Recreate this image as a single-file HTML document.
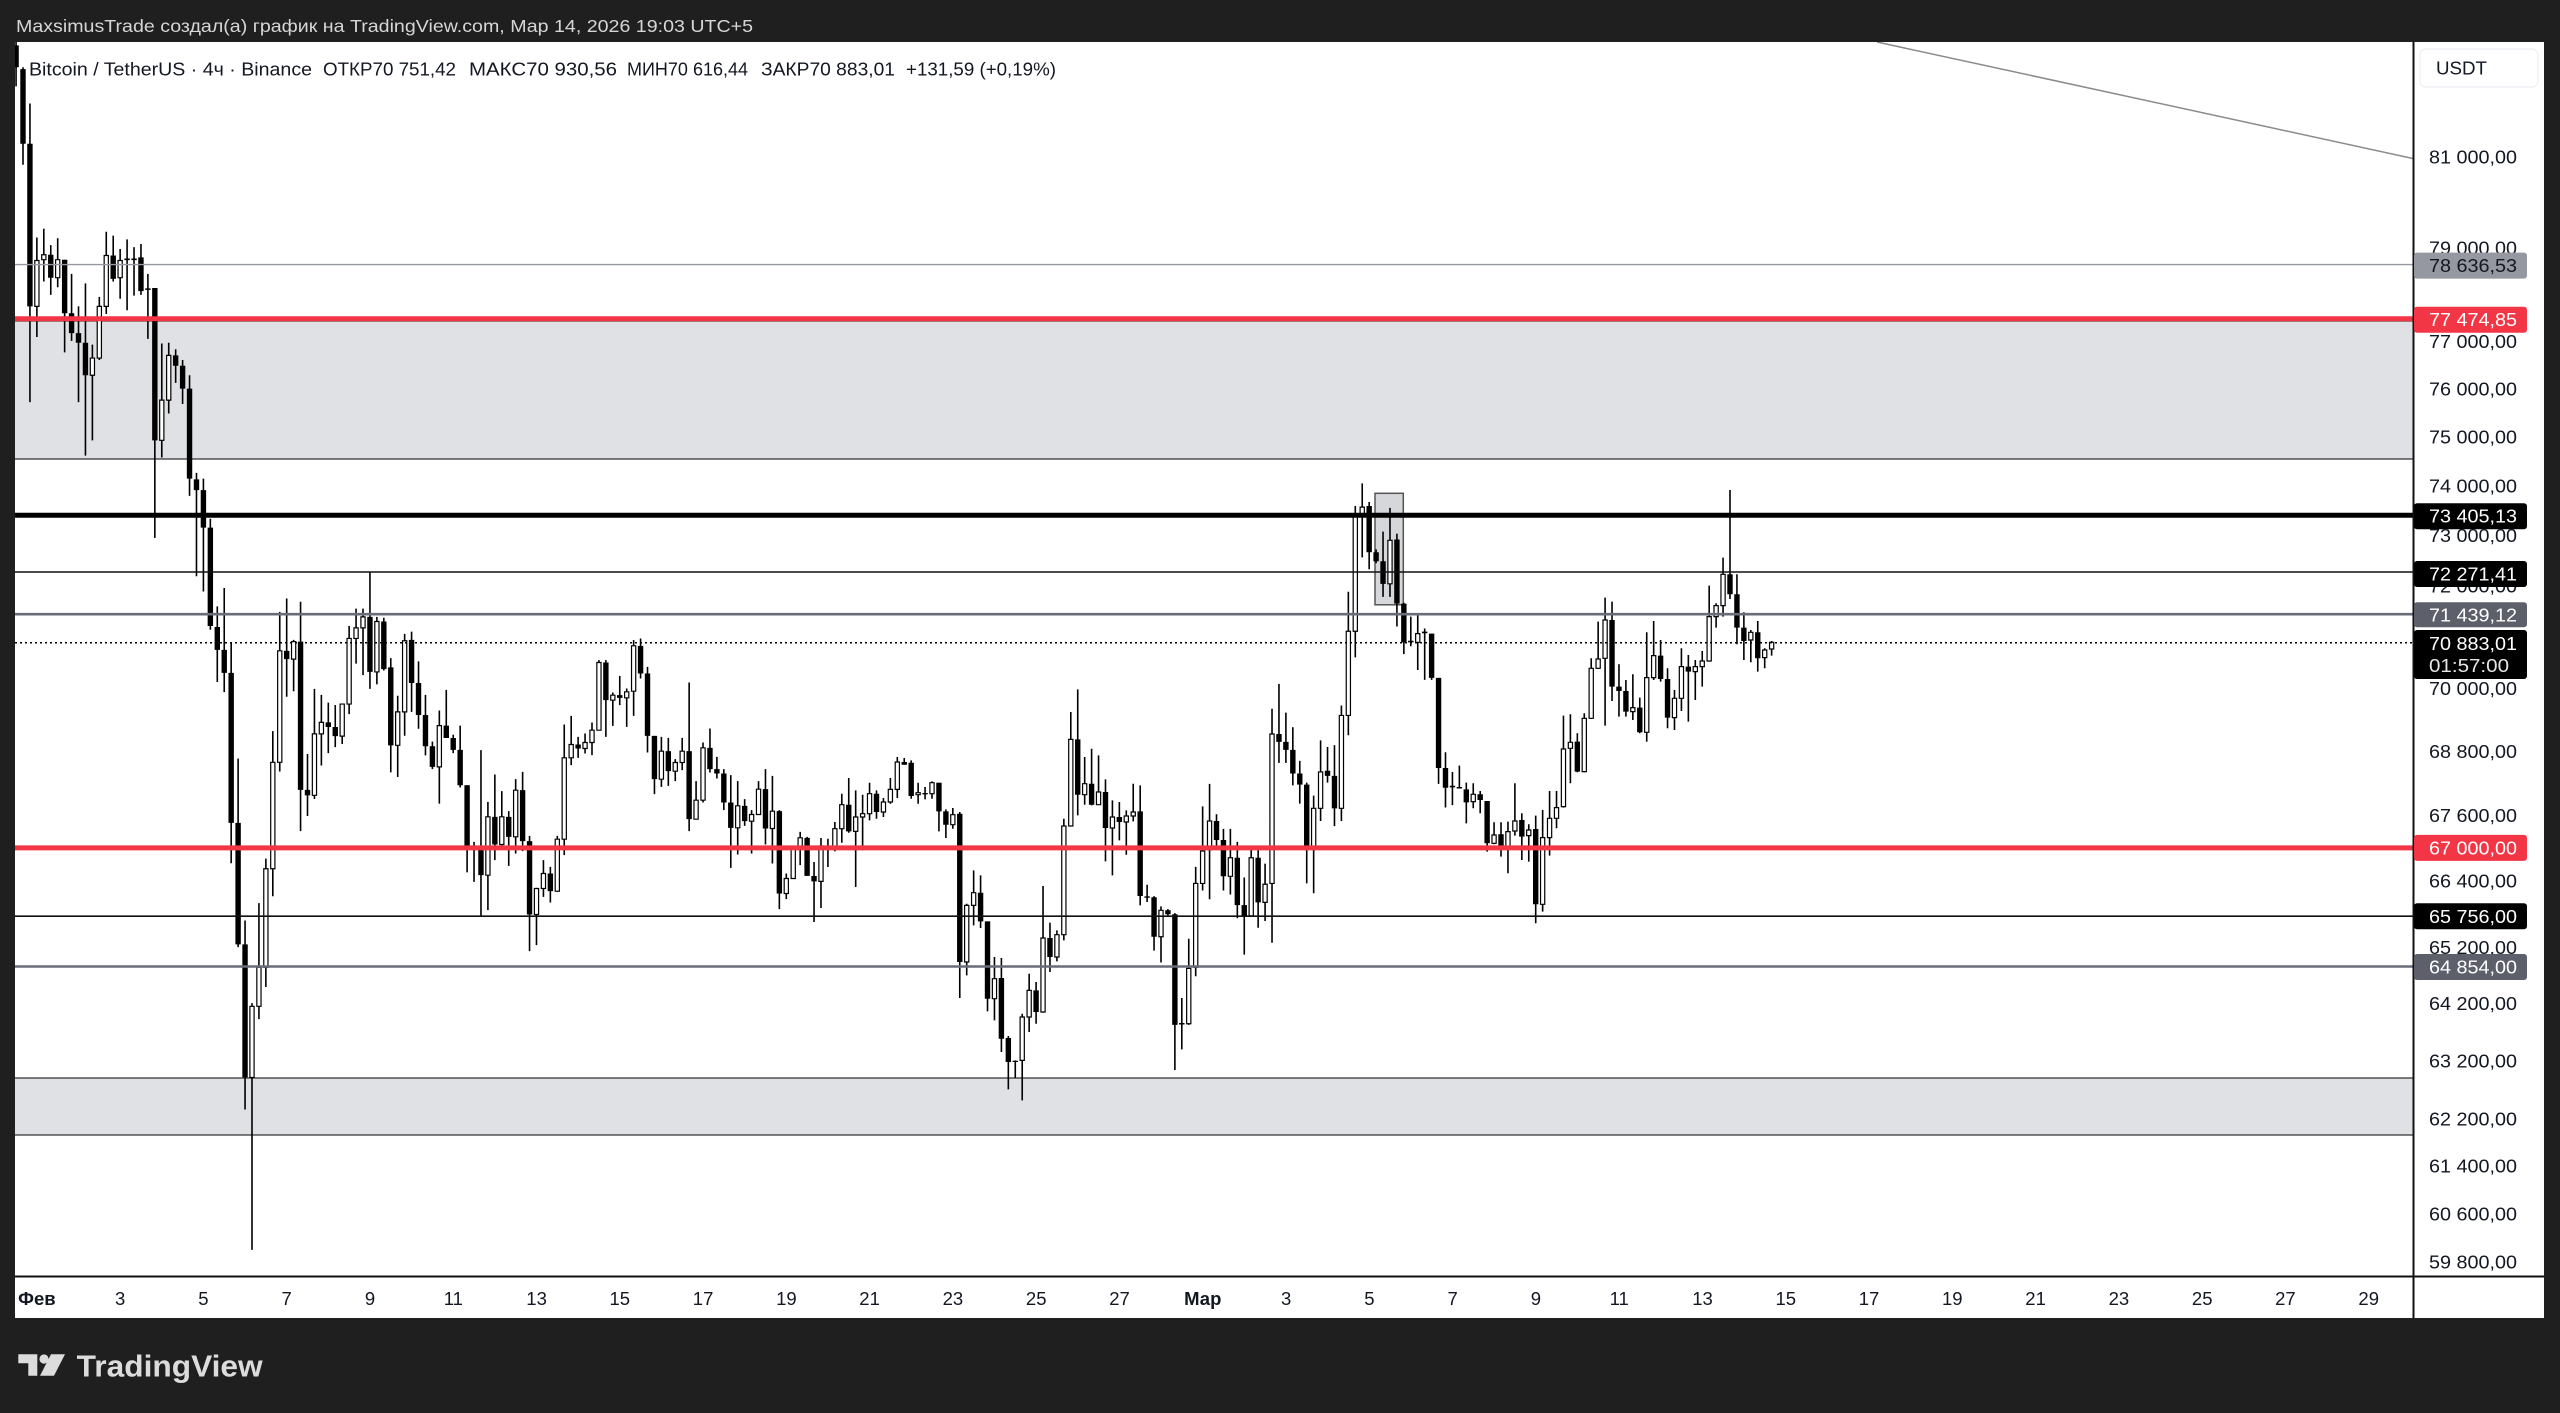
<!DOCTYPE html>
<html><head><meta charset="utf-8">
<style>
html,body{margin:0;padding:0;background:#1f1f1f;overflow:hidden;width:2560px;height:1413px}
svg{display:block}
.wk{fill:none;stroke:#000;stroke-width:1.6;vector-effect:non-scaling-stroke}
.bk{fill:#000;stroke:none}
.wt{fill:#fff;stroke:#000;stroke-width:1.2;vector-effect:non-scaling-stroke}
</style></head>
<body>
<svg width="2560" height="1413" viewBox="0 0 2560 1413" xmlns="http://www.w3.org/2000/svg" font-family="'Liberation Sans', 'Noto Sans CJK JP', sans-serif">
<defs>
<clipPath id="pa"><rect x="15" y="42" width="2398" height="1234"/></clipPath>
</defs>
<rect width="2560" height="1413" fill="#1f1f1f"/>
<rect x="15" y="42" width="2529" height="1276" fill="#ffffff"/>

<g clip-path="url(#pa)">
  <rect x="14" y="321" width="2400" height="138" fill="#e0e1e4" stroke="#2a2a2a" stroke-width="1.2"/>
  <rect x="14" y="1078" width="2400" height="57" fill="#e0e1e4" stroke="#2a2a2a" stroke-width="1.2"/>
  <rect x="1375" y="493.3" width="28.3" height="111.5" fill="#d6d7db" stroke="#555" stroke-width="1.5"/>

  <!-- Segment A -->
  <g transform="translate(16.061 38.5) scale(6.939 0.3827)">
    <path class="wk" d="M0 0V125M1 75V330M2 170V950M3 520V780M4 497V635M5 540V670M6 522V650M7 578V820M8 615V790M9 700V950M10 640V1090M11 800V1050M12 675V840M13 505V720M14 515V635M15 550V680M16 525V710M17 545V672M18 537V670M19 615V785M20 652V1305M21 797V1095M22 795V980M23 812V900M24 840V955M25 880V1195M26 1135V1405M27 1150V1445M28 1255V1545"/>
    <path class="bk" d="M0 18m-.389 0h.778V75h-.778ZM1 80m-.389 0h.778V275h-.778ZM2 275m-.389 0h.778V700h-.778ZM5 565m-.389 0h.778V625h-.778ZM7 578m-.389 0h.778V718h-.778ZM8 718m-.389 0h.778V770h-.778ZM9 770m-.389 0h.778V795h-.778ZM10 795m-.389 0h.778V880h-.778ZM14 567m-.389 0h.778V628h-.778ZM16 575m-.389 0h.778V579h-.778ZM17 575m-.389 0h.778V579h-.778ZM18 572m-.389 0h.778V660h-.778ZM19 653m-.389 0h.778V657h-.778ZM20 652m-.389 0h.778V1050h-.778ZM23 828m-.389 0h.778V855h-.778ZM24 855m-.389 0h.778V915h-.778ZM25 915m-.389 0h.778V1150h-.778ZM26 1152m-.389 0h.778V1180h-.778ZM27 1180m-.389 0h.778V1278h-.778ZM28 1278m-.389 0h.778V1535h-.778Z"/>
    <path class="wt" d="M3 580m-.303 0h.606V700h-.606ZM4 565m-.303 0h.606V578h-.606ZM6 578m-.303 0h.606V625h-.606ZM11 835m-.303 0h.606V880h-.606ZM12 700m-.303 0h.606V835h-.606ZM13 567m-.303 0h.606V700h-.606ZM15 580m-.303 0h.606V625h-.606ZM21 945m-.303 0h.606V1050h-.606ZM22 828m-.303 0h.606V945h-.606Z"/>
  </g>

  <!-- Segment B -->
  <g transform="translate(217.292 549) scale(6.939 0.4587)">
    <path class="wk" d="M0 125V290M1 85V312M2 205V685M3 457V868M4 810V1222M5 990V1528M6 772V1025M7 675V955M8 397V757M9 137V485M10 108V322M11 198V310M12 115V615M13 447V582M14 305V545M15 318V472M16 335V445M17 340V432M18 338V425M19 168V360M20 130V250M21 130V275M22 50V305M23 148V295M24 150V265M25 238V487M26 320V497M27 185V407M28 180V355M29 245V392M30 318V450M31 420V480M32 352V555M33 307V412M34 405V445M35 385V520M36 515V705"/>
    <path class="bk" d="M0 170m-.389 0h.778V220h-.778ZM1 220m-.389 0h.778V270h-.778ZM2 270m-.389 0h.778V597h-.778ZM3 597m-.389 0h.778V862h-.778ZM4 862m-.389 0h.778V1152h-.778ZM10 222m-.389 0h.778V240h-.778ZM12 202m-.389 0h.778V525h-.778ZM13 525m-.389 0h.778V537h-.778ZM16 378m-.389 0h.778V388h-.778ZM17 388m-.389 0h.778V408h-.778ZM22 148m-.389 0h.778V268h-.778ZM24 158m-.389 0h.778V262h-.778ZM25 258m-.389 0h.778V428h-.778ZM28 198m-.389 0h.778V292h-.778ZM29 292m-.389 0h.778V362h-.778ZM30 362m-.389 0h.778V430h-.778ZM31 430m-.389 0h.778V475h-.778ZM33 385m-.389 0h.778V412h-.778ZM34 412m-.389 0h.778V438h-.778ZM35 438m-.389 0h.778V515h-.778ZM36 515m-.389 0h.778V650h-.778Z"/>
    <path class="wt" d="M5 997m-.303 0h.606V1152h-.606ZM6 912m-.303 0h.606V997h-.606ZM7 697m-.303 0h.606V912h-.606ZM8 465m-.303 0h.606V697h-.606ZM9 222m-.303 0h.606V465h-.606ZM11 202m-.303 0h.606V240h-.606ZM14 403m-.303 0h.606V537h-.606ZM15 378m-.303 0h.606V403h-.606ZM18 338m-.303 0h.606V408h-.606ZM19 195m-.303 0h.606V338h-.606ZM20 172m-.303 0h.606V195h-.606ZM21 148m-.303 0h.606V172h-.606ZM23 158m-.303 0h.606V268h-.606ZM26 355m-.303 0h.606V428h-.606ZM27 200m-.303 0h.606V355h-.606ZM32 385m-.303 0h.606V475h-.606Z"/>
  </g>

  <!-- Segment C -->
  <g transform="translate(474.035 598.5) scale(6.939 0.33333)">
    <path class="wk" d="M0 730V850M1 455V955M2 610V935M3 528V785M4 578V742M5 638V802M6 542V765M7 520V758M8 712V1058M9 868V1040M10 785V895M11 805V912M12 712V880M13 378V770M14 352V500M15 415V478M16 405V465M17 372V470M18 185V395M19 185V415M20 282V382M21 232V320M22 270V385M23 125V352M24 120V240M25 205V462M26 412V587M27 415V565M28 418V562M29 482V548M30 418V515M31 252V698M32 548V662M33 432V612M34 390V522M35 475V540M36 512V635M37 530V808M38 548V768M39 602V682M40 635V765M41 548V648M42 512V738M43 532V795M44 635V932M45 825V902M46 742V840M47 700V800M48 715V832"/>
    <path class="bk" d="M0 743m-.389 0h.778V747h-.778ZM1 742m-.389 0h.778V830h-.778ZM3 655m-.389 0h.778V738h-.778ZM5 655m-.389 0h.778V715h-.778ZM7 575m-.389 0h.778V728h-.778ZM8 728m-.389 0h.778V948h-.778ZM11 825m-.389 0h.778V878h-.778ZM15 438m-.389 0h.778V450h-.778ZM19 192m-.389 0h.778V305h-.778ZM21 290m-.389 0h.778V298h-.778ZM24 142m-.389 0h.778V225h-.778ZM25 225m-.389 0h.778V412h-.778ZM26 412m-.389 0h.778V542h-.778ZM28 458m-.389 0h.778V518h-.778ZM31 458m-.389 0h.778V662h-.778ZM34 448m-.389 0h.778V512h-.778ZM35 512m-.389 0h.778V525h-.778ZM36 525m-.389 0h.778V612h-.778ZM37 612m-.389 0h.778V688h-.778ZM39 622m-.389 0h.778V668h-.778ZM42 572m-.389 0h.778V690h-.778ZM44 638m-.389 0h.778V885h-.778ZM48 718m-.389 0h.778V832h-.778Z"/>
    <path class="wt" d="M2 655m-.303 0h.606V830h-.606ZM4 655m-.303 0h.606V738h-.606ZM6 575m-.303 0h.606V715h-.606ZM9 870m-.303 0h.606V948h-.606ZM10 825m-.303 0h.606V870h-.606ZM12 722m-.303 0h.606V878h-.606ZM13 478m-.303 0h.606V722h-.606ZM14 438m-.303 0h.606V478h-.606ZM16 432m-.303 0h.606V450h-.606ZM17 395m-.303 0h.606V432h-.606ZM18 192m-.303 0h.606V395h-.606ZM20 290m-.303 0h.606V305h-.606ZM22 280m-.303 0h.606V298h-.606ZM23 142m-.303 0h.606V278h-.606ZM27 458m-.303 0h.606V542h-.606ZM29 492m-.303 0h.606V518h-.606ZM30 458m-.303 0h.606V492h-.606ZM32 605m-.303 0h.606V662h-.606ZM33 448m-.303 0h.606V605h-.606ZM38 622m-.303 0h.606V688h-.606ZM40 648m-.303 0h.606V668h-.606ZM41 572m-.303 0h.606V648h-.606ZM43 638m-.303 0h.606V690h-.606ZM45 840m-.303 0h.606V885h-.606ZM46 752m-.303 0h.606V840h-.606ZM47 718m-.303 0h.606V752h-.606Z"/>
  </g>

  <!-- Segment D -->
  <g transform="translate(814.046 638.7) scale(6.939 0.33333)">
    <path class="wk" d="M0 670V850M1 598V808M2 600V685M3 550V638M4 465V612M5 418V582M6 455V745M7 468V635M8 432V545M9 455V540M10 478V535M11 418V495M12 355V478M13 358V378M14 365V480M15 432V495M16 445V482M17 428V480M18 432V578M19 512V598M20 508V570M21 520V1078M22 795V1010M23 695V860M24 710V868M25 848V1118M26 955V1145M27 958V1240M28 1192V1352M29 1265V1318M30 1125V1385M31 1005V1180M32 1030V1155M33 742V1122M34 852V1000M35 875V968M36 540V905M37 220V562M38 152V530M39 355V498M40 330V500M41 350V498M42 422V668M43 485V710M44 490V605M45 515V648M46 435V548M47 440V800M48 738V790"/>
    <path class="bk" d="M0 712m-.389 0h.778V728h-.778ZM2 622m-.389 0h.778V630h-.778ZM5 498m-.389 0h.778V578h-.778ZM9 465m-.389 0h.778V520h-.778ZM13 370m-.389 0h.778V378h-.778ZM14 372m-.389 0h.778V472h-.778ZM16 463m-.389 0h.778V467h-.778ZM18 432m-.389 0h.778V518h-.778ZM19 518m-.389 0h.778V558h-.778ZM21 525m-.389 0h.778V970h-.778ZM24 762m-.389 0h.778V848h-.778ZM25 848m-.389 0h.778V1080h-.778ZM27 1018m-.389 0h.778V1200h-.778ZM28 1198m-.389 0h.778V1270h-.778ZM29 1266m-.389 0h.778V1270h-.778ZM32 1055m-.389 0h.778V1120h-.778ZM34 898m-.389 0h.778V955h-.778ZM38 302m-.389 0h.778V468h-.778ZM40 435m-.389 0h.778V498h-.778ZM42 460m-.389 0h.778V568h-.778ZM44 535m-.389 0h.778V550h-.778ZM47 518m-.389 0h.778V772h-.778ZM48 773m-.389 0h.778V777h-.778Z"/>
    <path class="wt" d="M1 622m-.303 0h.606V728h-.606ZM3 570m-.303 0h.606V630h-.606ZM4 498m-.303 0h.606V570h-.606ZM6 535m-.303 0h.606V578h-.606ZM7 525m-.303 0h.606V535h-.606ZM8 465m-.303 0h.606V525h-.606ZM10 490m-.303 0h.606V520h-.606ZM11 452m-.303 0h.606V490h-.606ZM12 370m-.303 0h.606V452h-.606ZM15 462m-.303 0h.606V468h-.606ZM17 432m-.303 0h.606V465h-.606ZM20 528m-.303 0h.606V558h-.606ZM22 800m-.303 0h.606V970h-.606ZM23 762m-.303 0h.606V800h-.606ZM26 1020m-.303 0h.606V1080h-.606ZM30 1135m-.303 0h.606V1265h-.606ZM31 1055m-.303 0h.606V1135h-.606ZM33 898m-.303 0h.606V1120h-.606ZM35 888m-.303 0h.606V955h-.606ZM36 562m-.303 0h.606V888h-.606ZM37 302m-.303 0h.606V562h-.606ZM39 435m-.303 0h.606V468h-.606ZM41 460m-.303 0h.606V498h-.606ZM43 535m-.303 0h.606V568h-.606ZM45 532m-.303 0h.606V550h-.606ZM46 520m-.303 0h.606V532h-.606Z"/>
  </g>

  <!-- Segment E -->
  <g transform="translate(1154.057 468.4) scale(6.939 0.39526)">
    <path class="wk" d="M0 1082V1220M1 1108V1250M2 1115V1135M3 1125V1522M4 1340V1470M5 1190V1408M6 1008V1285M7 855V1068M8 798V1090M9 875V960M10 912V1068M11 912V1078M12 945V1138M13 1035V1230M14 962V1135M15 965V1162M16 1000V1145M17 608V1200M18 545V745M19 618V745M20 655V802M21 740V848M22 795V1050M23 828V1075M24 688V892M25 705V795M26 700V905M27 600V892M28 312V675M29 95V478M30 38V225M31 85V255M32 205V240M33 160V325M34 100V325M35 165V400M36 340V470M37 375V450M38 370V510M39 405V535M40 418V535M41 530V798M42 718V858M43 768V852M44 752V810M45 795V898"/>
    <path class="bk" d="M0 1085m-.389 0h.778V1185h-.778ZM2 1118m-.389 0h.778V1128h-.778ZM3 1128m-.389 0h.778V1408h-.778ZM4 1403m-.389 0h.778V1407h-.778ZM9 892m-.389 0h.778V940h-.778ZM10 940m-.389 0h.778V1032h-.778ZM12 985m-.389 0h.778V1105h-.778ZM13 1105m-.389 0h.778V1132h-.778ZM15 985m-.389 0h.778V1098h-.778ZM18 672m-.389 0h.778V692h-.778ZM19 692m-.389 0h.778V712h-.778ZM20 712m-.389 0h.778V772h-.778ZM21 772m-.389 0h.778V800h-.778ZM22 800m-.389 0h.778V958h-.778ZM25 765m-.389 0h.778V778h-.778ZM26 778m-.389 0h.778V860h-.778ZM31 95m-.389 0h.778V212h-.778ZM32 212m-.389 0h.778V235h-.778ZM33 235m-.389 0h.778V292h-.778ZM35 180m-.389 0h.778V342h-.778ZM36 342m-.389 0h.778V440h-.778ZM37 436m-.389 0h.778V440h-.778ZM39 413m-.389 0h.778V417h-.778ZM40 418m-.389 0h.778V530h-.778ZM41 530m-.389 0h.778V758h-.778ZM42 758m-.389 0h.778V808h-.778ZM43 803m-.389 0h.778V807h-.778ZM44 806m-.389 0h.778V810h-.778ZM45 812m-.389 0h.778V845h-.778Z"/>
    <path class="wt" d="M1 1118m-.303 0h.606V1185h-.606ZM5 1265m-.303 0h.606V1405h-.606ZM6 1050m-.303 0h.606V1262h-.606ZM7 968m-.303 0h.606V1050h-.606ZM8 892m-.303 0h.606V965h-.606ZM11 985m-.303 0h.606V1032h-.606ZM14 985m-.303 0h.606V1132h-.606ZM16 1052m-.303 0h.606V1098h-.606ZM17 672m-.303 0h.606V1050h-.606ZM23 860m-.303 0h.606V958h-.606ZM24 768m-.303 0h.606V860h-.606ZM27 625m-.303 0h.606V860h-.606ZM28 412m-.303 0h.606V625h-.606ZM29 120m-.303 0h.606V412h-.606ZM30 98m-.303 0h.606V120h-.606ZM34 182m-.303 0h.606V292h-.606ZM38 418m-.303 0h.606V440h-.606Z"/>
  </g>

  <!-- Segment F -->
  <g transform="translate(1473.251 468.3) scale(6.939 0.33333)">
    <path class="wk" d="M0 945V1020M1 968V1035M2 998V1150M3 1062V1128M4 1062V1165M5 1060V1215M6 945V1102M7 1035V1175M8 1068V1180M9 1042V1365M10 1025V1330M11 968V1162M12 968V1080M13 742V1018M14 738V945M15 795V912M16 735V912M17 570V752M18 460V602M19 388V772M20 400V698M21 588V745M22 635V745M23 618V755M24 688V795M25 492V820M26 458V635M27 515V640M28 600V780M29 665V785M30 540V728M31 560V760M32 575V695M33 548V655M34 352V580M35 405V478M36 268V445M37 65V392M38 318V528M39 432V575M40 485V582M41 458V610M42 540V600M43 518V562"/>
    <path class="bk" d="M1 978m-.389 0h.778V995h-.778ZM2 998m-.389 0h.778V1125h-.778ZM4 1098m-.389 0h.778V1138h-.778ZM7 1055m-.389 0h.778V1105h-.778ZM9 1082m-.389 0h.778V1308h-.778ZM15 820m-.389 0h.778V910h-.778ZM20 455m-.389 0h.778V655h-.778ZM21 655m-.389 0h.778V668h-.778ZM22 668m-.389 0h.778V730h-.778ZM24 718m-.389 0h.778V792h-.778ZM27 562m-.389 0h.778V632h-.778ZM28 632m-.389 0h.778V748h-.778ZM31 595m-.389 0h.778V610h-.778ZM37 318m-.389 0h.778V378h-.778ZM38 378m-.389 0h.778V478h-.778ZM39 478m-.389 0h.778V518h-.778ZM41 492m-.389 0h.778V570h-.778Z"/>
    <path class="wt" d="M0 978m-.303 0h.606V1000h-.606ZM3 1100m-.303 0h.606V1125h-.606ZM5 1090m-.303 0h.606V1140h-.606ZM6 1058m-.303 0h.606V1088h-.606ZM8 1085m-.303 0h.606V1102h-.606ZM10 1108m-.303 0h.606V1308h-.606ZM11 1050m-.303 0h.606V1108h-.606ZM12 1018m-.303 0h.606V1050h-.606ZM13 842m-.303 0h.606V1015h-.606ZM14 822m-.303 0h.606V840h-.606ZM16 750m-.303 0h.606V910h-.606ZM17 600m-.303 0h.606V750h-.606ZM18 572m-.303 0h.606V600h-.606ZM19 455m-.303 0h.606V570h-.606ZM23 718m-.303 0h.606V730h-.606ZM25 628m-.303 0h.606V792h-.606ZM26 562m-.303 0h.606V628h-.606ZM29 690m-.303 0h.606V748h-.606ZM30 595m-.303 0h.606V690h-.606ZM32 595m-.303 0h.606V610h-.606ZM33 578m-.303 0h.606V595h-.606ZM34 445m-.303 0h.606V578h-.606ZM35 412m-.303 0h.606V445h-.606ZM36 318m-.303 0h.606V412h-.606ZM40 492m-.303 0h.606V515h-.606ZM42 545m-.303 0h.606V568h-.606ZM43 522m-.303 0h.606V542h-.606Z"/>
  </g>

  <!-- horizontal lines -->
  <line x1="15" x2="2413" y1="264.6" y2="264.6" stroke="#9598a1" stroke-width="1.4"/>
  <line x1="15" x2="2413" y1="318.8" y2="318.8" stroke="#f23645" stroke-width="5"/>
  <line x1="15" x2="2413" y1="515.3" y2="515.3" stroke="#000" stroke-width="5"/>
  <line x1="15" x2="2413" y1="572" y2="572" stroke="#111" stroke-width="1.6"/>
  <line x1="15" x2="2413" y1="614.2" y2="614.2" stroke="#6a6d78" stroke-width="2.6"/>
  <line x1="15" x2="2413" y1="642.7" y2="642.7" stroke="#000" stroke-width="1.5" stroke-dasharray="2 3"/>
  <line x1="15" x2="2413" y1="847.9" y2="847.9" stroke="#f23645" stroke-width="5"/>
  <line x1="15" x2="2413" y1="916.2" y2="916.2" stroke="#111" stroke-width="1.6"/>
  <line x1="15" x2="2413" y1="966.5" y2="966.5" stroke="#6a6d78" stroke-width="2.6"/>
  <line x1="1877" y1="42" x2="2413" y2="158.5" stroke="#8a8a8a" stroke-width="1.5"/>
</g>

<!-- axis separators -->
<line x1="2413.5" y1="42" x2="2413.5" y2="1318" stroke="#111" stroke-width="2"/>
<line x1="15" y1="1276.5" x2="2544" y2="1276.5" stroke="#111" stroke-width="2"/>

<!-- header -->
<text x="16" y="32" font-size="17.5" fill="#d6d6d6" textLength="737" lengthAdjust="spacingAndGlyphs">MaxsimusTrade создал(а) график на TradingView.com, Мар 14, 2026 19:03 UTC+5</text>
<!-- legend -->
<g font-size="18" fill="#131722">
<text x="29" y="75.5" textLength="283" lengthAdjust="spacingAndGlyphs">Bitcoin / TetherUS · 4ч · Binance</text>
<text x="323" y="75.5" textLength="133" lengthAdjust="spacingAndGlyphs">ОТКР70 751,42</text>
<text x="469" y="75.5" textLength="148" lengthAdjust="spacingAndGlyphs">МАКС70 930,56</text>
<text x="627" y="75.5" textLength="121" lengthAdjust="spacingAndGlyphs">МИН70 616,44</text>
<text x="761" y="75.5" textLength="134" lengthAdjust="spacingAndGlyphs">ЗАКР70 883,01</text>
<text x="906" y="75.5" textLength="150" lengthAdjust="spacingAndGlyphs">+131,59 (+0,19%)</text>
</g>

<!-- USDT box -->
<rect x="2420" y="49" width="118" height="38" rx="6" fill="#fff" stroke="#eceef2" stroke-width="1.2"/>
<text x="2436" y="74.5" font-size="18" fill="#131722" textLength="51" lengthAdjust="spacingAndGlyphs">USDT</text>

<!-- price tick labels -->
<g font-size="18.5" fill="#131722">
<text x="2429" y="163.4" textLength="88" lengthAdjust="spacingAndGlyphs">81 000,00</text>
<text x="2429" y="254.5" textLength="88" lengthAdjust="spacingAndGlyphs">79 000,00</text>
<text x="2429" y="347.8" textLength="88" lengthAdjust="spacingAndGlyphs">77 000,00</text>
<text x="2429" y="395.5" textLength="88" lengthAdjust="spacingAndGlyphs">76 000,00</text>
<text x="2429" y="443.7" textLength="88" lengthAdjust="spacingAndGlyphs">75 000,00</text>
<text x="2429" y="492.6" textLength="88" lengthAdjust="spacingAndGlyphs">74 000,00</text>
<text x="2429" y="542.2" textLength="88" lengthAdjust="spacingAndGlyphs">73 000,00</text>
<text x="2429" y="592.4" textLength="88" lengthAdjust="spacingAndGlyphs">72 000,00</text>
<text x="2429" y="642.9" textLength="88" lengthAdjust="spacingAndGlyphs">71 000,00</text>
<text x="2429" y="695.1" textLength="88" lengthAdjust="spacingAndGlyphs">70 000,00</text>
<text x="2429" y="758" textLength="88" lengthAdjust="spacingAndGlyphs">68 800,00</text>
<text x="2429" y="822.1" textLength="88" lengthAdjust="spacingAndGlyphs">67 600,00</text>
<text x="2429" y="887.4" textLength="88" lengthAdjust="spacingAndGlyphs">66 400,00</text>
<text x="2429" y="953.8" textLength="88" lengthAdjust="spacingAndGlyphs">65 200,00</text>
<text x="2429" y="1010.1" textLength="88" lengthAdjust="spacingAndGlyphs">64 200,00</text>
<text x="2429" y="1067.3" textLength="88" lengthAdjust="spacingAndGlyphs">63 200,00</text>
<text x="2429" y="1125.4" textLength="88" lengthAdjust="spacingAndGlyphs">62 200,00</text>
<text x="2429" y="1172.6" textLength="88" lengthAdjust="spacingAndGlyphs">61 400,00</text>
<text x="2429" y="1220.3" textLength="88" lengthAdjust="spacingAndGlyphs">60 600,00</text>
<text x="2429" y="1268.7" textLength="88" lengthAdjust="spacingAndGlyphs">59 800,00</text>
</g>

<!-- price boxes -->
<g font-size="18.5">
<rect x="2414" y="252.6" width="113" height="26" rx="3" fill="#9598a1"/>
<text x="2429" y="272" fill="#131722" textLength="88" lengthAdjust="spacingAndGlyphs">78 636,53</text>
<rect x="2414" y="306.8" width="113" height="26" rx="3" fill="#f23645"/>
<text x="2429" y="326.2" fill="#fff" textLength="88" lengthAdjust="spacingAndGlyphs">77 474,85</text>
<rect x="2414" y="503.3" width="113" height="26" rx="3" fill="#000"/>
<text x="2429" y="522.7" fill="#fff" textLength="88" lengthAdjust="spacingAndGlyphs">73 405,13</text>
<rect x="2414" y="561" width="113" height="26" rx="3" fill="#000"/>
<text x="2429" y="580.4" fill="#fff" textLength="88" lengthAdjust="spacingAndGlyphs">72 271,41</text>
<rect x="2414" y="602.2" width="113" height="25" rx="3" fill="#5d606b"/>
<text x="2429" y="621.4" fill="#fff" textLength="88" lengthAdjust="spacingAndGlyphs">71 439,12</text>
<rect x="2414" y="630" width="113" height="49" rx="3" fill="#000"/>
<text x="2429" y="649.8" fill="#fff" textLength="88" lengthAdjust="spacingAndGlyphs">70 883,01</text>
<text x="2429" y="672" fill="#e6e6e6" textLength="80" lengthAdjust="spacingAndGlyphs">01:57:00</text>
<rect x="2414" y="834.9" width="113" height="26" rx="3" fill="#f23645"/>
<text x="2429" y="854.6" fill="#fff" textLength="88" lengthAdjust="spacingAndGlyphs">67 000,00</text>
<rect x="2414" y="903.2" width="113" height="26" rx="3" fill="#000"/>
<text x="2429" y="922.9" fill="#fff" textLength="88" lengthAdjust="spacingAndGlyphs">65 756,00</text>
<rect x="2414" y="954" width="113" height="26" rx="3" fill="#5d606b"/>
<text x="2429" y="973.7" fill="#fff" textLength="88" lengthAdjust="spacingAndGlyphs">64 854,00</text>
</g>

<!-- time axis labels -->
<g font-size="18.5" fill="#131722" text-anchor="middle">
<text x="36.9" y="1305" font-weight="bold">Фев</text>
<text x="120.2" y="1305">3</text>
<text x="203.4" y="1305">5</text>
<text x="286.7" y="1305">7</text>
<text x="370" y="1305">9</text>
<text x="453.3" y="1305">11</text>
<text x="536.6" y="1305">13</text>
<text x="619.8" y="1305">15</text>
<text x="703.1" y="1305">17</text>
<text x="786.4" y="1305">19</text>
<text x="869.6" y="1305">21</text>
<text x="952.9" y="1305">23</text>
<text x="1036.2" y="1305">25</text>
<text x="1119.5" y="1305">27</text>
<text x="1202.8" y="1305" font-weight="bold">Мар</text>
<text x="1286.1" y="1305">3</text>
<text x="1369.4" y="1305">5</text>
<text x="1452.6" y="1305">7</text>
<text x="1535.9" y="1305">9</text>
<text x="1619.2" y="1305">11</text>
<text x="1702.5" y="1305">13</text>
<text x="1785.8" y="1305">15</text>
<text x="1869" y="1305">17</text>
<text x="1952.3" y="1305">19</text>
<text x="2035.6" y="1305">21</text>
<text x="2118.9" y="1305">23</text>
<text x="2202.2" y="1305">25</text>
<text x="2285.4" y="1305">27</text>
<text x="2368.7" y="1305">29</text>
</g>

<!-- TradingView logo -->
<g fill="#dcdcdc">
  <path d="M18.3 1354.3 H37.3 V1375.7 H28.3 V1363.3 H18.3 Z"/>
  <circle cx="44" cy="1359" r="4.6"/>
  <path d="M51 1354.3 H65 L54 1375.7 H40 Z"/>
  <text x="76.7" y="1376.7" font-size="31" font-weight="bold" textLength="186" lengthAdjust="spacingAndGlyphs">TradingView</text>
</g>
</svg>
</body></html>
